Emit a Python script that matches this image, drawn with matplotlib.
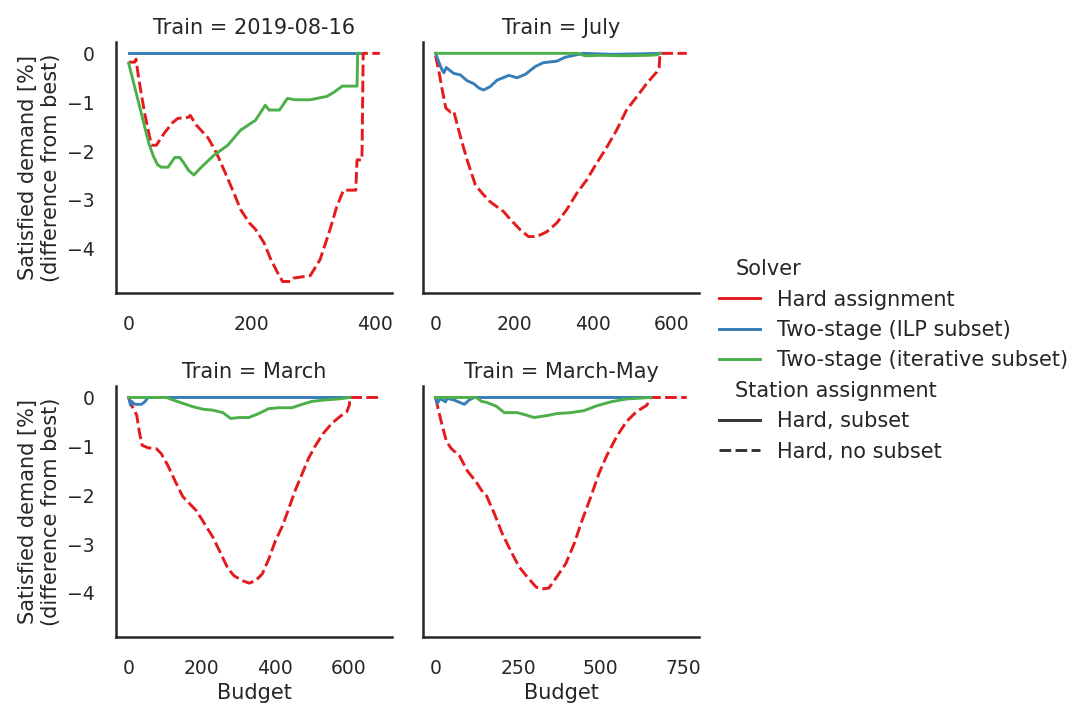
import matplotlib as mpl
import matplotlib.pyplot as plt
from matplotlib.lines import Line2D

plt.rcParams.update({
    'font.family': ['DejaVu Sans'],
    'text.color': '.15',
    'axes.labelcolor': '.15',
    'axes.edgecolor': '.15',
    'axes.linewidth': 1.8,
    'xtick.color': '.15',
    'ytick.color': '.15',
    'xtick.bottom': False,
    'ytick.left': False,
    'xtick.major.size': 7.2,
    'ytick.major.size': 7.2,
    'xtick.major.pad': 8.4,
    'ytick.major.pad': 8.4,
    'xtick.labelsize': 13.5,
    'ytick.labelsize': 13.5,
    'axes.labelsize': 15,
    'axes.titlesize': 15,
    'lines.linewidth': 2.1,
})

trains = ['2019-08-16', 'July', 'March', 'March-May']
solvers = ['Hard assignment', 'Two-stage (ILP subset)', 'Two-stage (iterative subset)']
solver_colors = ['#e41a1c', '#377eb8', '#4daf4a']
styles = ['Hard, subset', 'Hard, no subset']
xticks = [[0, 200, 400], [0, 200, 400, 600], [0, 200, 400, 600], [0, 250, 500, 750]]

# Train = 2019-08-16
aug_hard_x = [0, 10, 12, 16, 26, 37, 45, 58, 72, 80, 97, 100, 110, 129, 142, 155, 171, 182,
              196, 206, 220, 231, 242, 250, 263, 268, 284, 295, 311, 327, 338, 349, 369, 371,
              379, 381, 408]
aug_hard_y = [-0.18, -0.18, -0.12, -0.49, -1.23, -1.88, -1.88, -1.63, -1.41, -1.33, -1.31, -1.27,
              -1.47, -1.73, -2.02, -2.39, -2.86, -3.2, -3.47, -3.6, -3.88, -4.22, -4.49, -4.67,
              -4.67, -4.6, -4.57, -4.55, -4.22, -3.61, -3.14, -2.8, -2.8, -2.18, -2.18, 0, 0]
aug_ilp_x = [0, 375]
aug_ilp_y = [0, 0]
aug_iter_x = [0, 5, 10, 18, 26, 33, 40, 47, 53, 64, 75, 83, 90, 97, 106, 118, 139, 161, 182,
              206, 222, 228, 245, 258, 270, 295, 322, 333, 347, 371, 372, 375]
aug_iter_y = [-0.2, -0.45, -0.7, -1.1, -1.5, -1.85, -2.1, -2.28, -2.33, -2.33, -2.13, -2.13,
              -2.25, -2.39, -2.49, -2.33, -2.08, -1.88, -1.57, -1.37, -1.06, -1.16, -1.16, -0.92,
              -0.95, -0.95, -0.88, -0.8, -0.67, -0.67, 0, 0]

# Train = July
jul_hard_x = [0, 8, 17, 26, 38, 46, 63, 80, 101, 118, 139, 173, 190, 215, 236, 257, 283, 308,
              333, 359, 384, 409, 435, 460, 485, 511, 536, 562, 568, 570, 638]
jul_hard_y = [-0.05, -0.35, -0.75, -1.12, -1.2, -1.18, -1.7, -2.18, -2.69, -2.86, -3.04, -3.24,
              -3.4, -3.61, -3.75, -3.75, -3.65, -3.47, -3.2, -2.86, -2.59, -2.25, -1.92, -1.57,
              -1.16, -0.89, -0.62, -0.38, -0.28, 0, 0]
jul_ilp_x = [0, 13, 21, 27, 46, 63, 80, 97, 110, 122, 139, 156, 186, 207, 228, 253, 274, 308,
             329, 358, 375, 450, 520, 570]
jul_ilp_y = [0, -0.28, -0.4, -0.29, -0.41, -0.44, -0.56, -0.62, -0.71, -0.75, -0.68, -0.55,
             -0.45, -0.5, -0.43, -0.27, -0.19, -0.16, -0.08, -0.03, 0, -0.02, -0.01, 0]
jul_iter_x = [0, 360, 380, 420, 480, 540, 562, 570]
jul_iter_y = [0, 0, -0.05, -0.04, -0.05, -0.04, -0.03, 0]

# Train = March
mar_hard_x = [0, 10, 22, 30, 37, 53, 76, 89, 107, 130, 148, 166, 184, 202, 230, 252, 271, 288,
              311, 329, 347, 365, 383, 401, 420, 437, 455, 474, 491, 509, 531, 555, 577, 596,
              603, 604, 686]
mar_hard_y = [0, -0.19, -0.36, -0.74, -0.98, -1.03, -1.05, -1.15, -1.39, -1.76, -2.03, -2.17,
              -2.31, -2.52, -2.86, -3.2, -3.5, -3.65, -3.75, -3.8, -3.75, -3.61, -3.3, -2.93,
              -2.63, -2.28, -1.9, -1.56, -1.25, -1.0, -0.74, -0.53, -0.39, -0.29, -0.15, 0, 0]
mar_ilp_x = [0, 5, 8, 17, 35, 44, 53, 604]
mar_ilp_y = [0, -0.16, -0.08, -0.14, -0.14, -0.09, 0, 0]
mar_iter_x = [0, 103, 121, 148, 176, 203, 230, 257, 279, 302, 328, 355, 382, 409, 446, 474,
              501, 537, 573, 604]
mar_iter_y = [0, 0, -0.05, -0.12, -0.19, -0.24, -0.26, -0.31, -0.43, -0.41, -0.41, -0.33,
              -0.23, -0.21, -0.21, -0.14, -0.08, -0.05, -0.03, 0]

# Train = March-May
mm_hard_x = [0, 9, 21, 33, 48, 72, 96, 123, 139, 154, 178, 202, 229, 253, 277, 304, 322, 343,
             367, 394, 419, 443, 470, 494, 518, 548, 578, 608, 639, 651, 760]
mm_hard_y = [0, -0.27, -0.6, -0.9, -1.05, -1.19, -1.5, -1.73, -1.9, -2.01, -2.38, -2.79, -3.16,
             -3.47, -3.67, -3.88, -3.92, -3.9, -3.67, -3.4, -3.0, -2.52, -2.03, -1.56, -1.19,
             -0.8, -0.49, -0.29, -0.16, 0, 0]
mm_ilp_x = [0, 5, 15, 30, 35, 55, 87, 102, 117, 651]
mm_ilp_y = [0, -0.12, -0.02, -0.09, -0.02, -0.05, -0.14, -0.05, 0, 0]
mm_iter_x = [0, 123, 139, 154, 184, 208, 247, 274, 298, 337, 367, 410, 449, 488, 530, 578, 651]
mm_iter_y = [0, 0, -0.08, -0.1, -0.18, -0.31, -0.31, -0.36, -0.41, -0.37, -0.33, -0.31, -0.27,
             -0.17, -0.09, -0.03, 0]

panels = [
    [(aug_hard_x, aug_hard_y), (aug_ilp_x, aug_ilp_y), (aug_iter_x, aug_iter_y)],
    [(jul_hard_x, jul_hard_y), (jul_ilp_x, jul_ilp_y), (jul_iter_x, jul_iter_y)],
    [(mar_hard_x, mar_hard_y), (mar_ilp_x, mar_ilp_y), (mar_iter_x, mar_iter_y)],
    [(mm_hard_x, mm_hard_y), (mm_ilp_x, mm_ilp_y), (mm_iter_x, mm_iter_y)],
]
dash = (4, 1.5)

fig = plt.figure(figsize=(10.75, 7.11), dpi=100)
lefts = [0.108, 0.3935]
bottoms = [0.588, 0.104]
w, h = 0.257, 0.353
axes = []
for i in range(4):
    r, c = divmod(i, 2)
    ax = fig.add_axes([lefts[c], bottoms[r], w, h], sharey=axes[0] if axes else None)
    axes.append(ax)
    for j, (x, y) in enumerate(panels[i]):
        if j == 0:
            ax.plot(x, y, color=solver_colors[j], dashes=dash)
        else:
            ax.plot(x, y, color=solver_colors[j])
    ax.set_title('Train = ' + trains[i])
    ax.set_xticks(xticks[i])
    for s in ['top', 'right']:
        ax.spines[s].set_visible(False)
    if c == 0:
        ax.set_ylabel('Satisfied demand [%]\n(difference from best)')
    else:
        ax.tick_params(labelleft=False)
    if r == 1:
        ax.set_xlabel('Budget')

axes[0].set_yticks([0, -1, -2, -3, -4])

handles = [Line2D([], [], visible=False, label='Solver')]
for name, col in zip(solvers, solver_colors):
    handles.append(Line2D([], [], color=col, label=name))
handles.append(Line2D([], [], visible=False, label='Station assignment'))
handles.append(Line2D([], [], color='.2', label=styles[0]))
handles.append(Line2D([], [], color='.2', dashes=dash, label=styles[1]))

leg = fig.legend(handles=handles, loc='center left', bbox_to_anchor=(0.651, 0.493),
                 frameon=False, fontsize=15, labelspacing=0.5, handlelength=2.0)
for hpack in leg.findobj(mpl.offsetbox.VPacker)[0].get_children():
    draw_area, text_area = hpack.get_children()
    if not all(a.get_visible() for a in draw_area.get_children()):
        draw_area.set_width(0)

fig.savefig('out.png', dpi=100)
